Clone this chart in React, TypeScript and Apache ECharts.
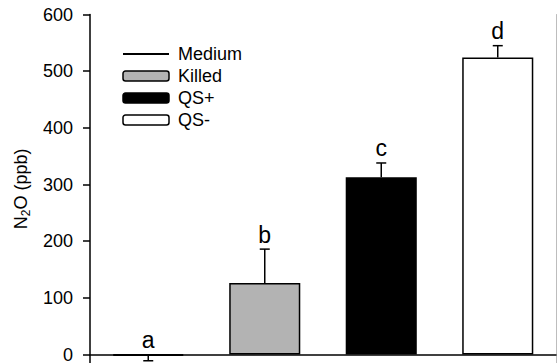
import React, { useEffect, useRef } from "react";
import * as echarts from "echarts";

const categories = ["Medium", "Killed", "QS+", "QS-"];
const means = [-1, 126, 313, 524];
const errors = [10, 60, 25, 21];
const letters = ["a", "b", "c", "d"];
const fills = ["#000000", "#b3b3b3", "#000000", "#ffffff"];
const yMin = -100;
const yMax = 600;
const yInterval = 100;

const FONT = "'Liberation Sans', Arial, Helvetica, sans-serif";

export default function App() {
  const ref = useRef<HTMLDivElement>(null);
  useEffect(() => {
    if (!ref.current) return;
    const chart = echarts.init(ref.current, undefined, { renderer: "svg" });

    const only = (i: number) => categories.map((_, j) => (j === i ? means[i] : "-"));

    const barStyle = (i: number) => ({
      color: fills[i],
      borderColor: "#000",
      borderWidth: i === 0 ? 2 : 1.5,
    });

    const series: any[] = [
      {
        name: "Medium",
        type: "line",
        data: categories.map(() => "-"),
        symbol: "none",
        lineStyle: { color: "#000", width: 1.5 },
        itemStyle: { color: "#000" },
        silent: true,
      },
      {
        name: "Medium bar",
        type: "bar",
        data: only(0),
        barWidth: "61%",
        barGap: "-100%",
        barMinHeight: 1,
        itemStyle: barStyle(0),
      },
    ];
    [1, 2, 3].forEach((i) => {
      series.push({
        name: categories[i],
        type: "bar",
        data: only(i),
        barWidth: "61%",
        barGap: "-100%",
        itemStyle: barStyle(i),
      });
    });
    series.push({
      name: "errors",
      type: "custom",
      data: categories.map((_, i) => [i, means[i], errors[i]]),
      z: 10,
      renderItem: (params: any, api: any) => {
        const i = api.value(0);
        const m = api.value(1);
        const e = api.value(2);
        const dir = m < 0 ? -1 : 1;
        const base = api.coord([i, m]);
        const end = api.coord([i, m + dir * e]);
        const zero = api.coord([i, 0]);
        const cap = 5;
        const topY = dir > 0 ? end[1] : Math.min(zero[1], base[1]);
        const lineStyle = { stroke: "#000", lineWidth: 1.5 };
        return {
          type: "group",
          children: [
            { type: "line", shape: { x1: base[0], y1: base[1], x2: end[0], y2: end[1] }, style: lineStyle },
            { type: "line", shape: { x1: end[0] - cap, y1: end[1], x2: end[0] + cap, y2: end[1] }, style: lineStyle },
            {
              type: "text",
              x: base[0],
              y: topY - 3,
              style: {
                text: letters[params.dataIndex],
                fontSize: 23,
                fontFamily: FONT,
                fill: "#000",
                align: "center",
                verticalAlign: "bottom",
              },
            },
          ],
        };
      },
    });

    chart.setOption({
      animation: false,
      backgroundColor: "#ffffff",
      textStyle: { fontFamily: FONT },
      grid: { left: 90, right: 1, top: 14.5, bottom: 8.8, containLabel: false },
      legend: {
        orient: "vertical",
        left: 122,
        top: 45,
        padding: 0,
        itemWidth: 46,
        itemHeight: 10,
        itemGap: 4,
        selectedMode: false,
        textStyle: { fontSize: 18, lineHeight: 18, color: "#000", fontFamily: FONT, padding: [0, 0, 0, 4] },
        itemStyle: { borderColor: "#000", borderWidth: 1.5 },
        data: [
          { name: "Medium", itemStyle: { opacity: 0 } },
          { name: "Killed" },
          { name: "QS+" },
          { name: "QS-" },
        ],
      },
      xAxis: [
        {
          type: "category",
          data: categories,
          show: false,
        },
        {
          type: "category",
          data: categories,
          position: "top",
          axisLine: { show: true, lineStyle: { color: "#000", width: 1.5 } },
          axisTick: { show: false },
          axisLabel: { show: false },
        },
      ],
      yAxis: [
        {
          type: "value",
          min: yMin,
          max: yMax,
          interval: yInterval,
          name: "{n|N}{s|2}{n|O (ppb)}",
          nameLocation: "middle",
          nameRotate: 90,
          nameGap: 56,
          nameTextStyle: {
            padding: [0, 0, 0, 48],
            rich: {
              n: { fontSize: 18, fontFamily: FONT, color: "#000", lineHeight: 20, verticalAlign: "bottom" },
              s: { fontSize: 12, fontFamily: FONT, color: "#000", lineHeight: 20, verticalAlign: "bottom", padding: [0, 0, -2, 0] },
            },
          },
          axisLine: { show: true, lineStyle: { color: "#000", width: 1.5 } },
          axisTick: { show: true, inside: false, length: 7, lineStyle: { color: "#000", width: 1.5 } },
          axisLabel: {
            fontSize: 18,
            color: "#000",
            fontFamily: FONT,
            margin: 17,
            formatter: (v: number) => (v < 0 ? "" : String(v)),
          },
          splitLine: { show: false },
        },
        {
          type: "value",
          min: yMin,
          max: yMax,
          interval: yInterval,
          position: "right",
          axisLine: { show: true, lineStyle: { color: "#bdbdbd", width: 1 } },
          axisTick: { show: false },
          axisLabel: { show: false },
          splitLine: { show: false },
        },
      ],
      series,
    });
    return () => chart.dispose();
  }, []);

  return (
    <div
      style={{
        position: "fixed",
        left: 0,
        top: 0,
        width: 557,
        height: 363,
        overflow: "hidden",
        background: "#fff",
      }}
    >
      <div ref={ref} style={{ width: 557, height: 420 }} />
    </div>
  );
}
